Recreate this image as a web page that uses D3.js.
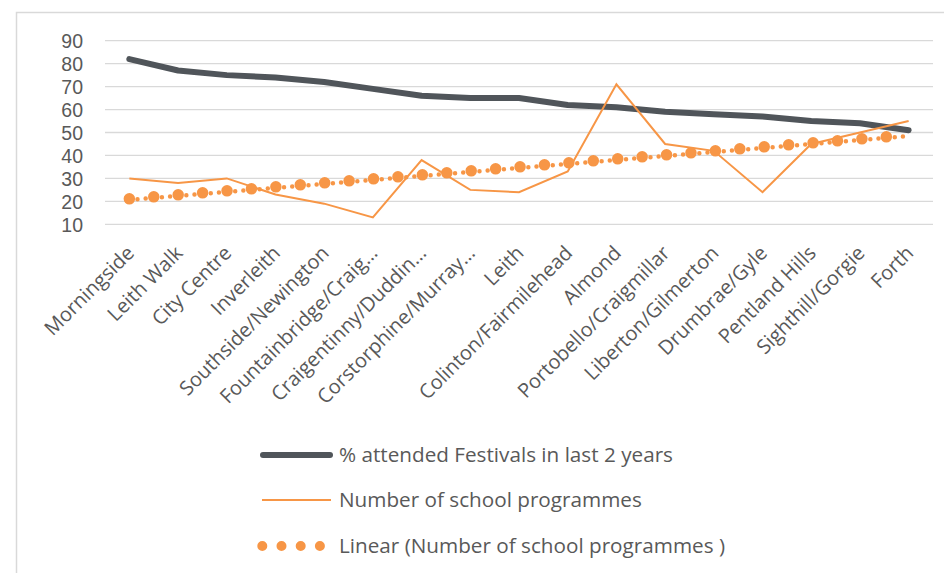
<!DOCTYPE html>
<html>
<head>
<meta charset="utf-8">
<script src="https://cdn.jsdelivr.net/npm/d3@7"></script>
<style>
  html, body { margin: 0; padding: 0; background: #fff; }
  svg { display: block; }
  text { font-family: "Open Sans", sans-serif; fill: #595959; }
</style>
</head>
<body>
<svg id="chart" width="944" height="573"></svg>
<script>
// ---- data ----
const categories = [
  "Morningside", "Leith Walk", "City Centre", "Inverleith", "Southside/Newington",
  "Fountainbridge/Craig…", "Craigentinny/Duddin…", "Corstorphine/Murray…", "Leith",
  "Colinton/Fairmilehead", "Almond", "Portobello/Craigmillar", "Liberton/Gilmerton",
  "Drumbrae/Gyle", "Pentland Hills", "Sighthill/Gorgie", "Forth"
];
const attendedFestivals = [82, 77, 75, 74, 72, 69, 66, 65, 65, 62, 61, 59, 58, 57, 55, 54, 51];
const schoolProgrammes = [30, 28, 30, 23, 19, 13, 38, 25, 24, 33, 71, 45, 42, 24, 45, 50, 55];
// linear trend line end values (first and last category)
const trendEnds = [21.1, 48.9];
const yTicks = [10, 20, 30, 40, 50, 60, 70, 80, 90];
const seriesNames = [
  "% attended Festivals in last 2 years",
  "Number of school programmes",
  "Linear (Number of school programmes )"
];

// ---- drawing ----
const svg = d3.select("#chart");
const darkCol = "#50555a", orangeCol = "#f79646", gridCol = "#d9d9d9";

// chart border (left & top visible)
svg.append("path")
  .attr("d", "M16.5,580 L16.5,12.5 L950,12.5")
  .attr("fill", "none").attr("stroke", gridCol).attr("stroke-width", 1.5);

const x = d3.scaleBand().domain(categories).range([105, 933]);
const y = d3.scaleLinear().domain([10, 90]).range([224.3, 40.7]);
const cx = c => x(c) + x.bandwidth() / 2;

// gridlines
svg.append("g").selectAll("line").data(yTicks).join("line")
  .attr("x1", 105).attr("x2", 933)
  .attr("y1", d => y(d)).attr("y2", d => y(d))
  .attr("stroke", gridCol).attr("stroke-width", 1.3);

// y axis labels
const yAxis = d3.axisLeft(y).tickValues(yTicks).tickSize(0).tickPadding(0);
const gy = svg.append("g").attr("transform", "translate(83,0)").call(yAxis);
gy.select(".domain").remove();
gy.selectAll("text").attr("font-size", 19.5).attr("fill", "#595959")
  .style("font-family", "'Liberation Sans', Arial, sans-serif").attr("dy", "0.36em");

// x axis labels (rotated)
const xAxis = d3.axisBottom(x).tickSize(0).tickPadding(0);
const gx = svg.append("g").attr("transform", "translate(0,224.3)").call(xAxis);
gx.select(".domain").remove();
gx.selectAll(".tick text")
  .attr("font-size", 20).attr("fill", "#595959")
  .style("font-family", "'Open Sans', sans-serif")
  .attr("text-anchor", "end")
  .attr("y", 0).attr("dy", 0)
  .attr("transform", "translate(6,30) rotate(-45)");

// lines
const line = d3.line().x((d, i) => cx(categories[i])).y(d => y(d));
svg.append("path").datum(attendedFestivals).attr("d", line)
  .attr("fill", "none").attr("stroke", darkCol).attr("stroke-width", 6)
  .attr("stroke-linejoin", "round").attr("stroke-linecap", "round");
svg.append("path").datum(schoolProgrammes).attr("d", line)
  .attr("fill", "none").attr("stroke", orangeCol).attr("stroke-width", 2)
  .attr("stroke-linejoin", "miter");

// trend line (dotted)
const trendLine = d3.line()
  .x((d, i) => cx(categories[i === 0 ? 0 : categories.length - 1]))
  .y(d => y(d));
svg.append("path").datum(trendEnds).attr("d", trendLine)
  .attr("fill", "none").attr("stroke", orangeCol).attr("stroke-width", 4.5)
  .attr("stroke-linecap", "round").attr("stroke-dasharray", "0 8.17")
  .attr("transform", "translate(0,1)");
svg.append("path").datum(trendEnds).attr("d", trendLine)
  .attr("fill", "none").attr("stroke", orangeCol).attr("stroke-width", 11.5)
  .attr("stroke-linecap", "round").attr("stroke-dasharray", "0 24.5");

// legend
const lg = svg.append("g");
const rows = [455, 500, 546];
lg.append("line").attr("x1", 263).attr("x2", 330).attr("y1", rows[0]).attr("y2", rows[0])
  .attr("stroke", darkCol).attr("stroke-width", 6).attr("stroke-linecap", "round");
lg.append("line").attr("x1", 262).attr("x2", 331).attr("y1", rows[1]).attr("y2", rows[1])
  .attr("stroke", orangeCol).attr("stroke-width", 2);
lg.append("line").attr("x1", 262.3).attr("x2", 321).attr("y1", rows[2]).attr("y2", rows[2])
  .attr("stroke", orangeCol).attr("stroke-width", 10)
  .attr("stroke-linecap", "round").attr("stroke-dasharray", "0 19.2");
lg.selectAll("text.lt").data(seriesNames).join("text").attr("class", "lt")
  .attr("x", 339).attr("y", (d, i) => rows[i]).attr("dy", "0.35em")
  .attr("font-size", 20.7).text(d => d);
</script>
</body>
</html>
